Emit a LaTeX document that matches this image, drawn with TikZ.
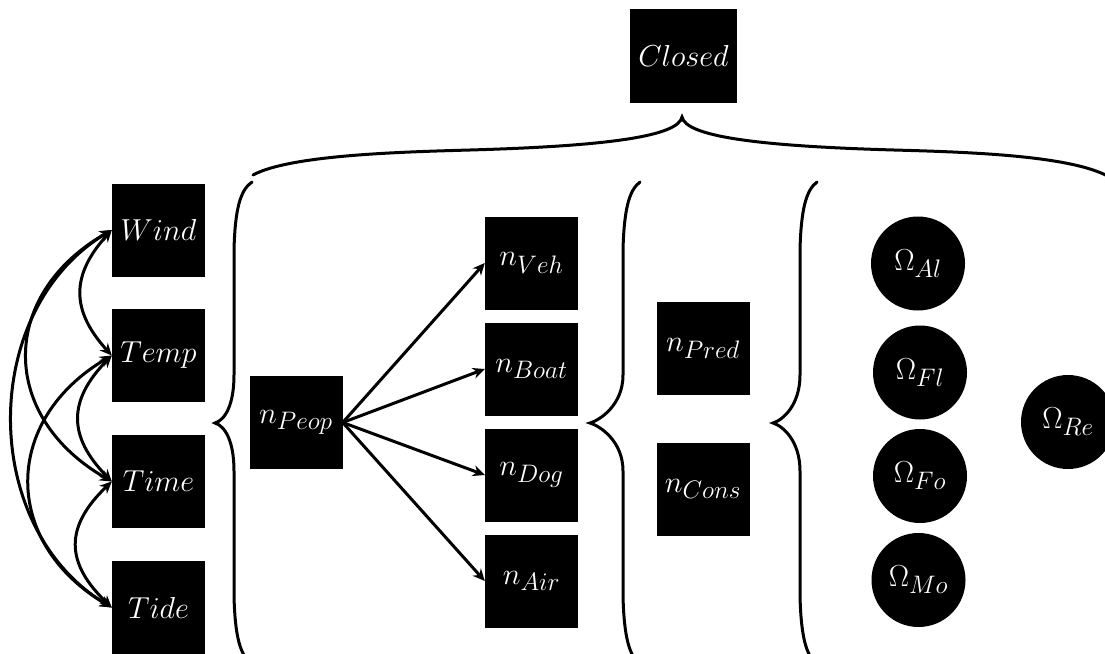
\documentclass[tikz,border=0pt]{standalone}
\usepackage{graphicx}
\usetikzlibrary{arrows.meta}
\tikzset{
  >={Stealth[length=12pt,width=11pt]},
  conn/.style={line width=3pt},
  box/.style={fill=black, text=white, minimum width=93pt, minimum height=93pt, inner sep=0pt, font=\fontsize{24.88}{30}\selectfont},
  nbox/.style={box},
  orb/.style={circle, fill=black, text=white, minimum size=94pt, inner sep=0pt, font=\fontsize{24.88}{30}\selectfont},
  bracestroke/.style={line width=3pt, line cap=round},
}
\newcommand\bt[1]{\scalebox{1.22}{$#1$}}
\newcommand\vbr[3]{%
  \draw[bracestroke] (#1,182) .. controls ({#2+6},190) and ({#2+1},210) .. (#2,250) -- (#2,375)
    .. controls (#2,405) and ({#3+10},420) .. (#3,423)
    .. controls ({#3+10},426) and (#2,441) .. (#2,471) -- (#2,596)
    .. controls ({#2+1},636) and ({#2+6},656) .. (#1,664);}
\begin{document}
\begin{tikzpicture}[x=1pt,y=-1pt]
\useasboundingbox (0,0) rectangle (1105,653);
\clip (0,0) rectangle (1105,653);
% weather boxes
\node[box] (wind) at (158.5,230) {\bt{Wind}};
\node[box] (temp) at (158.5,355.5) {\bt{Temp}};
\node[box] (time) at (158.5,481.5) {\bt{Time}};
\node[box] (tide) at (158.5,607.5) {\bt{Tide}};
% people and targets
\node[nbox] (peop) at (296,422.5) {\bt{n_{Peop}}};
\node[nbox] (veh) at (531.5,263) {\bt{n_{Veh}}};
\node[nbox] (boat) at (531.5,369) {\bt{n_{Boat}}};
\node[nbox] (dog) at (531.5,475) {\bt{n_{Dog}}};
\node[nbox] (air) at (531.5,581) {\bt{n_{Air}}};
\node[nbox] (pred) at (703,348.5) {\bt{n_{Pred}}};
\node[nbox] (cons) at (703,489) {\bt{n_{Cons}}};
\node[box, minimum width=107pt, minimum height=94pt] (closed) at (683.5,56) {\bt{Closed}};
% circles
\node[orb] (al) at (918,263.5) {\bt{\Omega_{Al}}};
\node[orb] (fl) at (920,372.5) {\bt{\Omega_{Fl}}};
\node[orb] (fo) at (920,476) {\bt{\Omega_{Fo}}};
\node[orb] (mo) at (918.5,580) {\bt{\Omega_{Mo}}};
\node[orb] (re) at (1068,422) {\bt{\Omega_{Re}}};
% weather connectors
\draw[conn,<->] (wind.west) .. controls +(-41,45) and +(-41,-45) .. (temp.west);
\draw[conn,<->] (temp.west) .. controls +(-44,45) and +(-44,-45) .. (time.west);
\draw[conn,<->] (time.west) .. controls +(-47,45) and +(-47,-45) .. (tide.west);
\draw[conn,<->] (wind.west) .. controls +(-113,65) and +(-113,-65) .. (time.west);
\draw[conn,<->] (temp.west) .. controls +(-110,65) and +(-110,-65) .. (tide.west);
\draw[conn,<->] (wind.west) .. controls +(-133,80) and +(-133,-80) .. (tide.west);
% people connectors
\draw[conn,->] (peop.east) -- (veh.west);
\draw[conn,->] (peop.east) -- (boat.west);
\draw[conn,->] (peop.east) -- (dog.west);
\draw[conn,->] (peop.east) -- (air.west);
% braces
\vbr{252}{234}{215}
\vbr{640}{623}{590}
\vbr{817}{800}{773}
\draw[bracestroke] (253,175) .. controls (290,155) and (400,152) .. (470,150)
  .. controls (610,146) and (678,136) .. (682,117)
  .. controls (686,136) and (754,146) .. (894,150)
  .. controls (964,152) and (1074,155) .. (1111,178);
\end{tikzpicture}
\end{document}
